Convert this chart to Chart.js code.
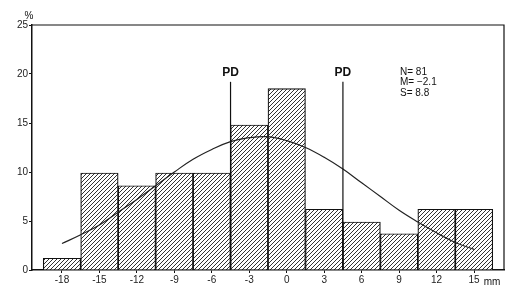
<!DOCTYPE html>
<html>
<head>
<meta charset="utf-8">
<script src="https://cdn.jsdelivr.net/npm/chart.js@4.4.1/dist/chart.umd.min.js"></script>
<style>
  html, body { margin: 0; padding: 0; background: #fff; }
  #wrap { width: 506px; height: 287px; }
</style>
</head>
<body>
<div id="wrap"><canvas id="hist"></canvas></div>
<script>
// class centres (mm) and share of observations (%), N = 81
var classMid = [-18, -15, -12, -9, -6, -3, 0, 3, 6, 9, 12, 15];
var percent = [1.2, 9.9, 8.6, 9.9, 9.9, 14.8, 18.5, 6.2, 4.9, 3.7, 6.2, 6.2];

// fitted normal curve
var curveX = [-18, -16.5, -15, -13.5, -12, -10.5, -9, -7.5, -6, -4.5, -3, -1.5, 0, 1.5, 3, 4.5, 6, 7.5, 9, 10.5, 12, 13.5, 15];
var curveY = [2.7, 3.6, 4.6, 5.9, 7.2, 8.6, 10.0, 11.3, 12.3, 13.1, 13.5, 13.6, 13.2, 12.5, 11.5, 10.3, 8.9, 7.5, 6.1, 4.9, 3.8, 2.8, 2.1];

// PD marks
var pdX = [-4.5, 4.5];
var pdTop = 19.2;

var stats = ["N= 81", "M= \u22122.1", "S= 8.8"];
var yTicks = [0, 5, 10, 15, 20, 25];
var xTicks = [-18, -15, -12, -9, -6, -3, 0, 3, 6, 9, 12, 15];

var FONT = "'Liberation Sans', Arial, sans-serif";

function hatch() {
    var c = document.createElement("canvas");
    c.width = 4; c.height = 4;
    var g = c.getContext("2d");
    g.fillStyle = "#fff";
    g.fillRect(0, 0, 4, 4);
    g.strokeStyle = "#333";
    g.lineWidth = 1;
    g.beginPath();
    g.moveTo(-1, 5); g.lineTo(5, -1);
    g.moveTo(-1, 1); g.lineTo(1, -1);
    g.moveTo(3, 5); g.lineTo(5, 3);
    g.stroke();
    return g.createPattern(c, "repeat");
}

var barData = classMid.map(function (x, i) { return {x: x, y: percent[i]}; });
var curveData = curveX.map(function (x, i) { return {x: x, y: curveY[i]}; });

var pdSets = pdX.map(function (x) {
    return {
        type: "line",
        data: [{x: x, y: 0}, {x: x, y: pdTop}],
        borderColor: "#111",
        borderWidth: 1.2,
        pointRadius: 0,
        order: 0
    };
});

var extras = {
    id: "extras",
    afterDraw: function (chart) {
        var ctx = chart.ctx, a = chart.chartArea;
        var xs = chart.scales.x, ys = chart.scales.y;
        ctx.save();
        ctx.strokeStyle = "#111";
        ctx.lineWidth = 1.2;
        ctx.beginPath();
        ctx.moveTo(a.left, a.top);
        ctx.lineTo(a.right, a.top);
        ctx.lineTo(a.right, a.bottom);
        ctx.stroke();

        ctx.fillStyle = "#111";
        ctx.textAlign = "center";
        ctx.textBaseline = "middle";
        ctx.font = "bold 12px " + FONT;
        pdX.forEach(function (x) {
            ctx.fillText("PD", xs.getPixelForValue(x), ys.getPixelForValue(pdTop) - 9);
        });

        ctx.font = "10px " + FONT;
        ctx.textAlign = "left";
        stats.forEach(function (s, i) {
            ctx.fillText(s, 400, 72 + i * 10.5);
        });

        ctx.textAlign = "center";
        ctx.fillText("%", a.left - 3, a.top - 9);
        ctx.fillText("mm", a.right - 12, 282);
        ctx.restore();
    }
};

new Chart(document.getElementById("hist"), {
    type: "bar",
    data: {
        datasets: [{
            type: "bar",
            data: barData,
            backgroundColor: hatch(),
            borderColor: "#111",
            borderWidth: 1.2,
            barPercentage: 1,
            categoryPercentage: 1,
            order: 2
        }, {
            type: "line",
            data: curveData,
            borderColor: "#222",
            borderWidth: 1.2,
            pointRadius: 0,
            tension: 0.4,
            fill: false,
            order: 1
        }].concat(pdSets)
    },
    options: {
        responsive: true,
        maintainAspectRatio: false,
        animation: false,
        layout: { padding: { top: 25, right: 2, left: 0, bottom: 0 } },
        plugins: { legend: { display: false }, tooltip: { enabled: false } },
        scales: {
            x: {
                type: "linear",
                offset: false,
                min: -20.4,
                max: 17.4,
                afterBuildTicks: function (s) { s.ticks = xTicks.map(function (v) { return {value: v}; }); },
                afterFit: function (s) { s.height = 17; },
                border: { color: "#111", width: 1.5 },
                grid: { drawOnChartArea: false, tickLength: 3, color: "#111", offset: false },
                ticks: {
                    color: "#222",
                    padding: 1,
                    maxRotation: 0,
                    font: { family: FONT, size: 10 },
                    callback: function (v) { return v < 0 ? "-" + Math.abs(v) : String(v); }
                }
            },
            y: {
                min: 0,
                max: 25,
                afterBuildTicks: function (s) { s.ticks = yTicks.map(function (v) { return {value: v}; }); },
                afterFit: function (s) { s.width = 32; },
                border: { color: "#111", width: 1.5 },
                grid: { drawOnChartArea: false, tickLength: 3, color: "#111" },
                ticks: {
                    color: "#222",
                    padding: 1,
                    font: { family: FONT, size: 10 }
                }
            }
        }
    },
    plugins: [extras]
});
</script>
</body>
</html>
